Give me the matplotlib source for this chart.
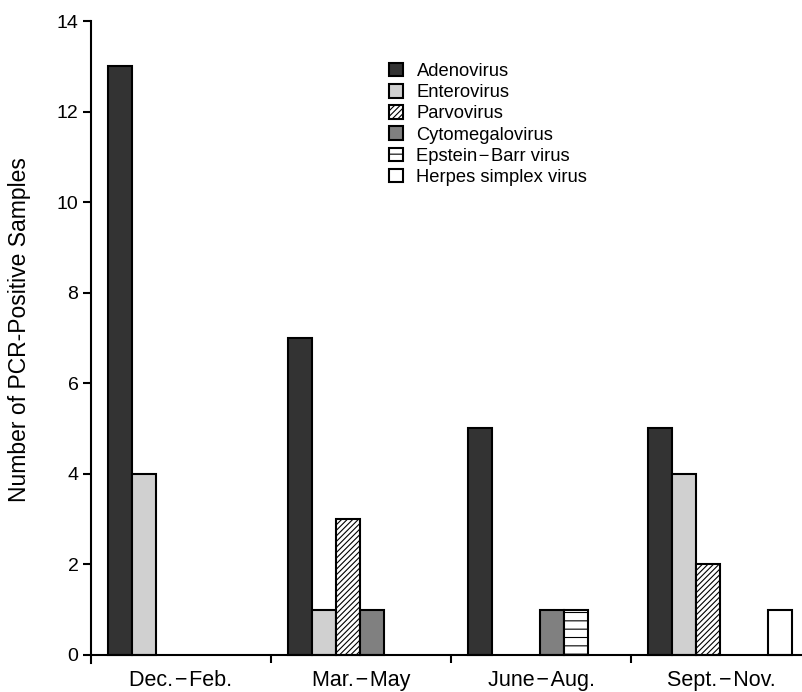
import matplotlib.pyplot as plt

plt.rcParams['font.family'] = ['Liberation Sans', 'DejaVu Sans']
plt.rcParams['hatch.linewidth'] = 0.8

seasons = ['Dec.\u200a−\u200aFeb.', 'Mar.\u200a−\u200aMay', 'June\u200a−\u200aAug.', 'Sept.\u200a−\u200aNov.']
viruses = ['Adenovirus', 'Enterovirus', 'Parvovirus', 'Cytomegalovirus',
           'Epstein\u200a−\u200aBarr virus', 'Herpes simplex virus']

# conteos por estación (0 = sin barra)
adenovirus = [13, 7, 5, 5]
enterovirus = [4, 1, 0, 4]
parvovirus = [0, 3, 0, 2]
cytomegalovirus = [0, 1, 1, 0]
epstein_barr = [0, 0, 1, 0]
herpes_simplex = [0, 0, 0, 1]

series = [adenovirus, enterovirus, parvovirus, cytomegalovirus, epstein_barr, herpes_simplex]
colores = ['#333333', '#d0d0d0', 'white', '#808080', 'white', 'white']
tramas = [None, None, '//////', None, '--', None]

fig = plt.figure(figsize=(8.02, 6.92), dpi=100)
ax = fig.add_axes([91 / 802, 29 / 692, 711 / 802, 642 / 692])

ancho = 24 / 180
inicio = 17 / 180
for j, (vals, col, tr, nombre) in enumerate(zip(series, colores, tramas, viruses)):
    xs = [i + inicio + j * ancho for i in range(len(seasons)) if vals[i] > 0]
    hs = [v for v in vals if v > 0]
    ax.bar(xs, hs, width=ancho, align='edge', color=col, edgecolor='black',
           linewidth=1.5, hatch=tr, label=nombre)

ax.set_xlim(0, 3.95)
ax.set_ylim(-0.18, 14)
ax.spines['top'].set_visible(False)
ax.spines['right'].set_visible(False)
ax.spines['bottom'].set_position(('data', 0))
ax.spines['left'].set_linewidth(1.5)
ax.spines['bottom'].set_linewidth(1.5)

ax.set_yticks(range(0, 15, 2))
ax.tick_params(axis='y', direction='out', length=6, width=1.5, labelsize=14, pad=3)
ax.set_xticks([1, 2, 3])
ax.set_xticklabels([])
ax.set_xticks([0.5, 1.5, 2.5, 3.5], minor=True)
ax.set_xticklabels(seasons, minor=True)
ax.tick_params(axis='x', which='major', direction='out', length=6, width=1.5)
ax.tick_params(axis='x', which='minor', length=0, labelsize=15.5, pad=11)

# título del eje y colocado a mano
fig.text(19.5 / 802, 1 - 330 / 692, 'Number of PCR-Positive Samples', rotation=90,
         ha='center', va='center', fontsize=16.5)

ax.legend(loc='upper left', bbox_to_anchor=(389 / 802, 1 - 63 / 692),
          bbox_transform=fig.transFigure, frameon=False, fontsize=13.2,
          handlelength=0.75, handleheight=0.75, handletextpad=0.75,
          labelspacing=0.22, borderpad=0, borderaxespad=0)

fig.savefig('out.png', dpi=100)
